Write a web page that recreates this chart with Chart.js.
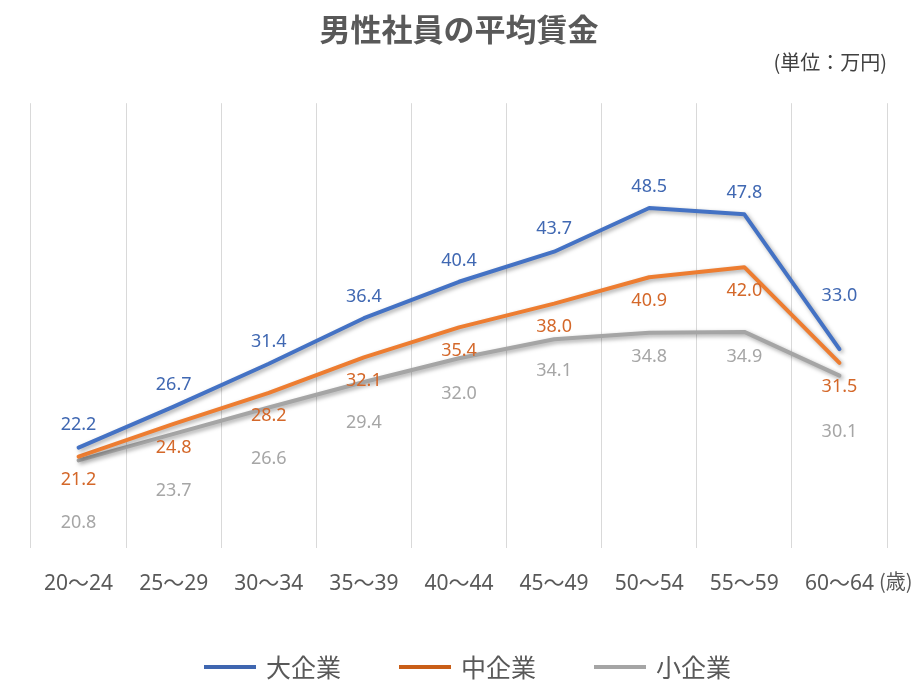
<!DOCTYPE html>
<html>
<head>
<meta charset="utf-8">
<script src="https://cdn.jsdelivr.net/npm/chart.js@4.4.1/dist/chart.umd.min.js"></script>
<style>
html,body{margin:0;padding:0;background:#fff;}
#wrap{width:918px;height:686px;position:relative;}
</style>
</head>
<body>
<div id="wrap"><canvas id="c" width="918" height="686"></canvas></div>
<script>
const categories = ['20〜24','25〜29','30〜34','35〜39','40〜44','45〜49','50〜54','55〜59','60〜64'];
const seriesNames = ['大企業','中企業','小企業'];
const largeCo = [22.2,26.7,31.4,36.4,40.4,43.7,48.5,47.8,33.0];
const mediumCo = [21.2,24.8,28.2,32.1,35.4,38.0,40.9,42.0,31.5];
const smallCo = [20.8,23.7,26.6,29.4,32.0,34.1,34.8,34.9,30.1];
const titleText = '男性社員の平均賃金';
const unitText = '(単位：万円)';
const ageUnit = '(歳)';

// style config (label offsets in px relative to point, negative = above)
const labelStyle = [
  {color:'#4068B2', offsets:[-23,-22,-22,-21,-21,-23,-21,-21,-53]},
  {color:'#D4682A', offsets:[23,24,23,23,24,23,24,24,24]},
  {color:'#A6A6A6', offsets:[63,57,51,41,36,32,24,25,56]}
];
const lineColors = ['#4472C4','#ED7D31','#A5A5A5'];
const legendColors = ['#3F66B0','#C95E17','#A5A5A5'];
const legendStyle = {startX:204, step:195, y:667, lineLen:52, lineW:4, gap:10, fontSize:25};
const FONT = '"Noto Sans", "Noto Sans CJK JP", sans-serif';
const CJK = '"Noto Sans CJK JP", "Noto Sans", sans-serif';

const shadowPlugin = {
  id:'shadow',
  beforeDatasetDraw(chart){
    const ctx = chart.ctx;
    ctx.save();
    ctx.shadowColor = 'rgba(0,0,0,0.35)';
    ctx.shadowBlur = 4;
    ctx.shadowOffsetX = 2;
    ctx.shadowOffsetY = 2;
  },
  afterDatasetDraw(chart){
    chart.ctx.restore();
  }
};

const labelPlugin = {
  id:'valueLabels',
  afterDatasetsDraw(chart){
    const ctx = chart.ctx;
    ctx.save();
    ctx.font = '18px ' + FONT;
    ctx.textAlign = 'center';
    ctx.textBaseline = 'middle';
    chart.data.datasets.forEach((ds, di) => {
      const meta = chart.getDatasetMeta(di);
      ctx.fillStyle = labelStyle[di].color;
      meta.data.forEach((pt, i) => {
        ctx.fillText(ds.data[i].toFixed(1), pt.x, pt.y + labelStyle[di].offsets[i]);
      });
    });
    // age unit after last tick label
    const xs = chart.scales.x;
    const lastX = xs.getPixelForValue(categories.length - 1);
    ctx.font = '21px ' + FONT;
    const w = ctx.measureText(categories[categories.length-1]).width;
    ctx.font = '20px ' + CJK;
    ctx.fillStyle = '#595959';
    ctx.textAlign = 'left';
    ctx.fillText(ageUnit, lastX + w/2 + 5, xs.top + 34);
    // legend
    const L = legendStyle;
    ctx.font = L.fontSize + 'px ' + CJK;
    chart.data.datasets.forEach((ds, di) => {
      const x0 = L.startX + di * L.step;
      ctx.fillStyle = legendColors[di];
      ctx.fillRect(x0, L.y - L.lineW/2, L.lineLen, L.lineW);
      ctx.fillStyle = '#595959';
      ctx.fillText(ds.label, x0 + L.lineLen + L.gap, L.y);
    });
    ctx.restore();
  }
};

new Chart(document.getElementById('c'), {
  type:'line',
  data:{
    labels: categories,
    datasets:[largeCo, mediumCo, smallCo].map((d, i) => ({
      label: seriesNames[i],
      data: d,
      borderColor: lineColors[i],
      backgroundColor: lineColors[i],
      borderWidth: 4,
      pointRadius: 0,
      tension: 0,
      borderJoinStyle: 'round',
      borderCapStyle: 'round',
      fill: false
    }))
  },
  options:{
    responsive:false,
    animation:false,
    devicePixelRatio:1,
    layout:{padding:{left:31, right:31, top:0, bottom:65}},
    scales:{
      x:{
        offset:true,
        grid:{offset:true, color:'#D9D9D9', lineWidth:1, drawTicks:false},
        border:{display:false},
        ticks:{color:'#595959', font:{size:21, family:FONT}, padding:24, maxRotation:0}
      },
      y:{display:false, min:11.2, max:60}
    },
    plugins:{
      title:{display:true, text:titleText, color:'#595959', font:{size:31, weight:'bold', family:CJK}, padding:{top:11, bottom:0}},
      subtitle:{display:true, text:unitText, align:'end', color:'#404040', font:{size:20, family:CJK}, padding:{top:2, bottom:29}},
      legend:{display:false},
      tooltip:{enabled:false}
    }
  },
  plugins:[shadowPlugin, labelPlugin]
});
</script>
</body>
</html>
